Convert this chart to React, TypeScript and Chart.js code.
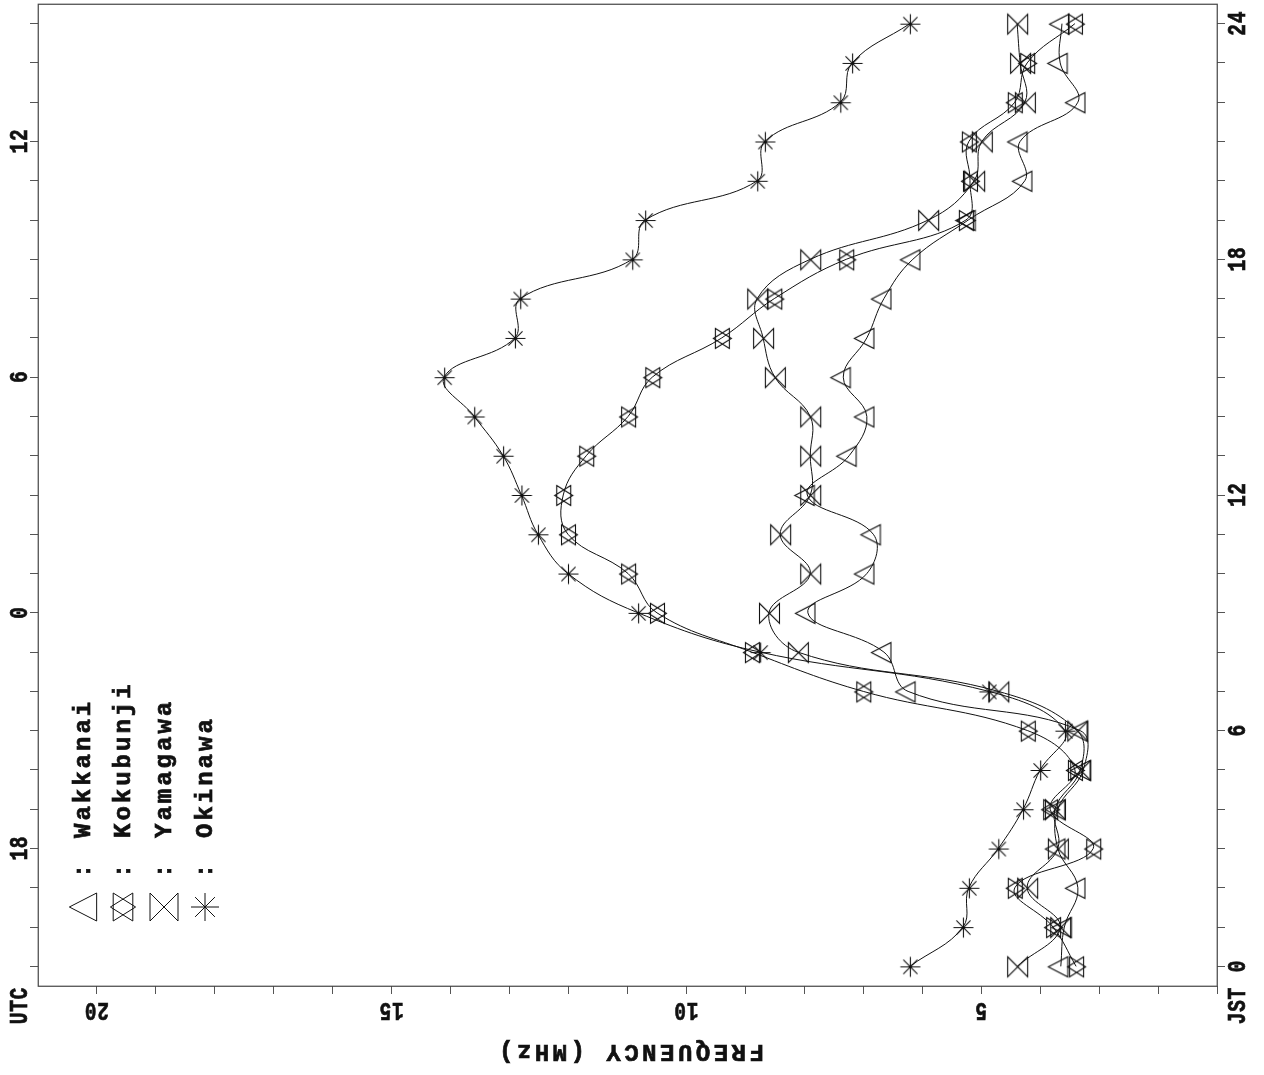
import React, { useEffect, useRef } from "react";
import { Chart, registerables } from "chart.js";

Chart.register(...registerables);

// Local time (JST) of each hourly value
const jstHours = [0, 1, 2, 3, 4, 5, 6, 7, 8, 9, 10, 11, 12, 13, 14, 15, 16, 17, 18, 19, 20, 21, 22, 23, 24];

// Hourly critical frequency per station, MHz
const wakkanai = [3.65, 3.59, 3.36, 3.7, 3.7, 3.27, 3.32, 6.24, 6.65, 7.94, 6.94, 6.83, 7.95, 7.24, 6.94, 7.34, 6.94, 6.65, 6.16, 5.22, 4.26, 4.34, 3.36, 3.66, 3.63];
const kokubunji = [3.39, 3.78, 4.43, 3.1, 3.83, 3.41, 4.21, 7.0, 8.89, 10.5, 10.99, 12.01, 12.09, 11.7, 10.99, 10.58, 9.4, 8.51, 7.29, 5.26, 5.19, 5.21, 4.43, 4.22, 3.41];
const yamagawa = [4.39, 3.66, 4.22, 3.7, 3.75, 3.32, 3.37, 4.71, 8.11, 8.6, 7.9, 8.41, 7.9, 7.9, 7.9, 8.5, 8.7, 8.8, 7.9, 5.9, 5.12, 4.99, 4.26, 4.34, 4.39];
const okinawa = [6.21, 5.31, 5.21, 4.71, 4.29, 4.0, 3.58, 4.87, 8.75, 10.82, 12.01, 12.52, 12.8, 13.11, 13.6, 14.11, 12.91, 12.82, 10.92, 10.7, 8.8, 8.67, 7.39, 7.19, 6.21];

const stationNames = ["Wakkanai", "Kokubunji", "Yamagawa", "Okinawa"];

// Axis ticks and labels
const freqTickValues = [1, 2, 3, 4, 5, 6, 7, 8, 9, 10, 11, 12, 13, 14, 15, 16, 17, 18, 19, 20];
const freqLabelValues = [20, 15, 10, 5];
const jstLabelValues = [0, 6, 12, 18, 24];
const utcLabelValues = [18, 0, 6, 12];
const UTC_OFFSET_HOURS = 9;

const FREQ_MIN = 1;
const FREQ_MAX = 21;
const HOUR_MIN = -0.5;
const HOUR_MAX = 24.5;

type MarkerKind = "triangle" | "hexagram" | "bowtie" | "star";
const stationMarkers: MarkerKind[] = ["triangle", "hexagram", "bowtie", "star"];

const INK = "#111";
const MARKER_INK = "#111";

function traceMarker(ctx: CanvasRenderingContext2D, kind: MarkerKind, cx: number, cy: number, s: number) {
  ctx.beginPath();
  if (kind === "triangle") {
    ctx.moveTo(cx - 1.3 * s, cy);
    ctx.lineTo(cx + 0.65 * s, cy - s);
    ctx.lineTo(cx + 0.65 * s, cy + s);
    ctx.closePath();
  } else if (kind === "hexagram") {
    ctx.moveTo(cx - 0.9 * s, cy);
    ctx.lineTo(cx + 0.7 * s, cy - s);
    ctx.lineTo(cx + 0.7 * s, cy + s);
    ctx.closePath();
    ctx.moveTo(cx + 0.9 * s, cy);
    ctx.lineTo(cx - 0.7 * s, cy - s);
    ctx.lineTo(cx - 0.7 * s, cy + s);
    ctx.closePath();
  } else if (kind === "bowtie") {
    ctx.moveTo(cx - s, cy - s);
    ctx.lineTo(cx + s, cy + s);
    ctx.lineTo(cx + s, cy - s);
    ctx.lineTo(cx - s, cy + s);
    ctx.closePath();
  } else {
    for (let k = 0; k < 4; k++) {
      const a = (k * Math.PI) / 4;
      ctx.moveTo(cx - s * Math.cos(a), cy - s * Math.sin(a));
      ctx.lineTo(cx + s * Math.cos(a), cy + s * Math.sin(a));
    }
  }
  ctx.stroke();
}

function makeMarkerImage(kind: MarkerKind, s: number): HTMLCanvasElement {
  const size = 2 * Math.ceil(1.4 * s) + 4;
  const c = document.createElement("canvas");
  c.width = size;
  c.height = size;
  const g = c.getContext("2d")!;
  g.strokeStyle = MARKER_INK;
  g.lineWidth = 1.1;
  traceMarker(g, kind, size / 2 + 0.5, size / 2 + 0.5, s);
  return c;
}

type TextStyle = { size: number; spacing: number; scaleX: number };

// Draws text rotated about (x, y); the baseline passes through (x, y)
function drawRotatedText(
  ctx: CanvasRenderingContext2D,
  text: string,
  x: number,
  y: number,
  angle: number,
  st: TextStyle,
  align: "center" | "left" = "center"
) {
  ctx.save();
  ctx.translate(x, y);
  ctx.rotate(angle);
  ctx.scale(st.scaleX, 1);
  ctx.font = `bold ${st.size}px "Liberation Mono", "Courier New", monospace`;
  (ctx as any).letterSpacing = `${st.spacing}px`;
  ctx.textAlign = "left";
  ctx.textBaseline = "alphabetic";
  ctx.fillStyle = "#111";
  ctx.strokeStyle = "#111";
  ctx.lineWidth = 0.7;
  const w = ctx.measureText(text).width - st.spacing;
  const x0 = align === "center" ? -w / 2 : 0;
  ctx.fillText(text, x0, 0);
  ctx.strokeText(text, x0, 0);
  ctx.restore();
}

const tickText: TextStyle = { size: 26, spacing: 1, scaleX: 0.75 };
const titleText: TextStyle = { size: 24, spacing: 3.5, scaleX: 1 };
const legendText: TextStyle = { size: 24, spacing: 3, scaleX: 1 };

const legendColumns = [83, 123, 164, 205];

const decorationsPlugin = {
  id: "ionoDecorations",
  afterDraw(chart: any) {
    const ctx: CanvasRenderingContext2D = chart.ctx;
    const area = chart.chartArea;
    const xs = chart.scales.x;
    const ys = chart.scales.y;

    // frame
    ctx.save();
    ctx.strokeStyle = "#444";
    ctx.lineWidth = 1.2;
    ctx.strokeRect(Math.round(area.left) + 0.25, Math.round(area.top) + 0.25, Math.round(area.right - area.left), Math.round(area.bottom - area.top));
    ctx.restore();

    // frequency labels, upside down below the frame
    for (const v of freqLabelValues) {
      drawRotatedText(ctx, String(v), xs.getPixelForValue(v), area.bottom + 17, Math.PI, tickText);
    }
    // JST labels on the right
    for (const v of jstLabelValues) {
      drawRotatedText(ctx, String(v), area.right + 28, ys.getPixelForValue(v), -Math.PI / 2, tickText);
    }
    // UTC labels on the left
    for (const v of utcLabelValues) {
      const jst = (v + UTC_OFFSET_HOURS) % 24;
      drawRotatedText(ctx, String(v), area.left - 11, ys.getPixelForValue(jst), -Math.PI / 2, tickText);
    }
    drawRotatedText(ctx, "UTC", area.left - 11, area.bottom + 20, -Math.PI / 2, tickText);
    drawRotatedText(ctx, "JST", area.right + 28, area.bottom + 20, -Math.PI / 2, tickText);
    drawRotatedText(ctx, "FREQUENCY (MHz)", (area.left + area.right) / 2 + 4, area.bottom + 59, Math.PI, titleText);

    // legend
    ctx.save();
    ctx.strokeStyle = MARKER_INK;
    ctx.lineWidth = 1;
    stationNames.forEach((name, i) => {
      const cx = legendColumns[i];
      const kind = stationMarkers[i];
      const s = 14;
      const mx = kind === "triangle" ? cx + 0.325 * s : cx;
      traceMarker(ctx, kind, mx, 907, s);
      drawRotatedText(ctx, ":", cx + 7, 871, -Math.PI / 2, legendText);
      drawRotatedText(ctx, name, cx + 7, 838, -Math.PI / 2, legendText, "left");
    });
    ctx.restore();
  },
};

export default function App() {
  const canvasRef = useRef<HTMLCanvasElement>(null);

  useEffect(() => {
    const canvas = canvasRef.current;
    if (!canvas) return;
    const seriesValues = [wakkanai, kokubunji, yamagawa, okinawa];
    const datasets = seriesValues.map((vals, i) => ({
      label: stationNames[i],
      data: jstHours.map((h, k) => ({ x: vals[k], y: h })),
      xAxisID: "x",
      yAxisID: "y",
      borderColor: INK,
      borderWidth: 1,
      backgroundColor: "transparent",
      fill: false,
      tension: 0.4,
      pointStyle: makeMarkerImage(stationMarkers[i], 10),
      pointRadius: 5,
      pointHoverRadius: 5,
    }));

    const hourTicks = (axis: any) => {
      axis.ticks = jstHours.map((v) => ({ value: v }));
    };
    const tickGrid = {
      display: true,
      drawOnChartArea: false,
      drawTicks: true,
      tickLength: 8,
      color: "#555",
      lineWidth: 1,
    };

    const chart = new Chart(canvas, {
      type: "line",
      data: { datasets: datasets as any },
      options: {
        responsive: false,
        animation: false,
        devicePixelRatio: 1,
        events: [],
        layout: { padding: { left: 30, right: 39, top: 4, bottom: 81 }, autoPadding: false } as any,
        plugins: { legend: { display: false }, tooltip: { enabled: false } },
        scales: {
          x: {
            type: "linear",
            position: "bottom",
            min: FREQ_MIN,
            max: FREQ_MAX,
            reverse: true,
            afterBuildTicks: (axis: any) => {
              axis.ticks = freqTickValues.map((v) => ({ value: v }));
            },
            ticks: { display: false },
            grid: tickGrid,
            border: { display: false },
          },
          y: {
            type: "linear",
            position: "right",
            min: HOUR_MIN,
            max: HOUR_MAX,
            afterBuildTicks: hourTicks,
            ticks: { display: false },
            grid: tickGrid,
            border: { display: false },
          },
          yUtc: {
            type: "linear",
            position: "left",
            min: HOUR_MIN,
            max: HOUR_MAX,
            afterBuildTicks: hourTicks,
            ticks: { display: false },
            grid: tickGrid,
            border: { display: false },
          },
        } as any,
      },
      plugins: [decorationsPlugin],
    });
    return () => chart.destroy();
  }, []);

  return (
    <div style={{ position: "absolute", left: 0, top: 0, width: 1264, height: 1075, background: "#fff" }}>
      <canvas ref={canvasRef} width={1264} height={1075} style={{ display: "block" }} />
    </div>
  );
}
